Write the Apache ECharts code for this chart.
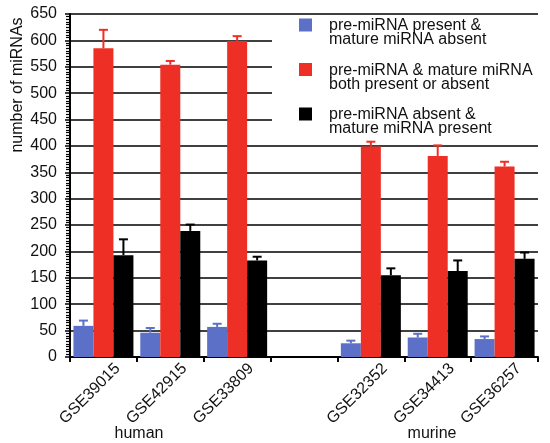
<!DOCTYPE html>
<html>
<head>
<meta charset="utf-8">
<script src="https://cdn.jsdelivr.net/npm/echarts@6/dist/echarts.min.js"></script>
<style>html,body{margin:0;padding:0;background:#fff}#c{width:550px;height:443px}</style>
</head>
<body>
<div id="c"></div>
<script>
var categories = ['GSE39015', 'GSE42915', 'GSE33809', '', 'GSE32352', 'GSE34413', 'GSE36257'];
var seriesNames = ['pre-miRNA present &\nmature miRNA absent', 'pre-miRNA & mature miRNA\nboth present or absent', 'pre-miRNA absent &\nmature miRNA present'];
var bluePresentAbsent = [59, 46, 57, null, 26, 37, 34];
var blueErr = [10, 9, 6, null, 5, 7, 5];
var redBoth = [585, 554, 599, null, 399, 381, 361];
var redErr = [35, 7, 9, null, 9, 20, 9];
var blackAbsentPresent = [193, 239, 183, null, 155, 163, 186];
var blackErr = [30, 12, 7, null, 13, 20, 12];
var yTicks = [0, 50, 100, 150, 200, 250, 300, 350, 400, 450, 500, 550, 600, 650];
var groupLabels = ['human', 'murine'];

var colors = ['#5b70c6', '#ee2f25', '#000000'];
var BW = 20;

function errSeries(vals, errs, idx) {
  var data = vals.map(function (v, i) { return v == null ? [i, null, null] : [i, v, v + errs[i]]; });
  return {
    type: 'custom',
    z: 3,
    silent: true,
    data: data,
    renderItem: function (params, api) {
      if (api.value(1) == null || isNaN(api.value(1))) return;
      var lo = api.coord([api.value(0), api.value(1)]);
      var hi = api.coord([api.value(0), api.value(2)]);
      var x = lo[0] + (idx - 1) * BW;
      var st = { stroke: colors[idx], lineWidth: 2 };
      return {
        type: 'group',
        children: [
          { type: 'line', shape: { x1: x, y1: lo[1], x2: x, y2: hi[1] }, style: st },
          { type: 'line', shape: { x1: x - 4.5, y1: hi[1], x2: x + 4.5, y2: hi[1] }, style: st }
        ]
      };
    }
  };
}

var chart = echarts.init(document.getElementById('c'), null, { renderer: 'canvas' });
var font = 'Liberation Sans, Arial, Helvetica, sans-serif';
chart.setOption({
  animation: false,
  textStyle: { fontFamily: font },
  grid: { left: 70, right: 12, top: 14, bottom: 86, containLabel: false },
  legend: {
    orient: 'vertical',
    left: 299,
    top: 6,
    padding: 0,
    itemWidth: 13,
    itemHeight: 13,
    itemGap: 2.5,
    icon: 'rect',
    z: 5,
    selectedMode: false,
    formatter: function (name) {
      var parts = name.split('\n');
      return '{s| }\n{t|' + parts[0] + '}\n{t|' + parts[1] + '}';
    },
    textStyle: {
      fontSize: 16, color: '#111', fontFamily: font, padding: [0, 0, 0, 12],
      rich: {
        s: { fontSize: 10, lineHeight: 16 },
        t: { fontSize: 16, lineHeight: 14, color: '#111', fontFamily: font }
      }
    },
    data: seriesNames
  },
  xAxis: {
    type: 'category',
    data: categories,
    axisLine: { lineStyle: { color: '#000', width: 2 } },
    axisTick: { show: true, length: 5, interval: 0, lineStyle: { color: '#000', width: 2 } },
    axisLabel: {
      interval: 0, rotate: 45, margin: -5, color: '#111', fontFamily: font,
      formatter: function (v) { return v ? '{s| }\n{t|' + v + '}' : ''; },
      rich: {
        s: { fontSize: 10, lineHeight: 40 },
        t: { fontSize: 16, lineHeight: 18, color: '#111', fontFamily: font }
      }
    },
    splitLine: { show: false }
  },
  yAxis: {
    type: 'value',
    min: 0,
    max: 650,
    interval: 50,
    axisLine: { show: true, lineStyle: { color: '#000', width: 2 } },
    axisTick: { show: true, length: 5, lineStyle: { color: '#000', width: 1.5 } },
    minorTick: { show: true, splitNumber: 10, length: 4, lineStyle: { color: '#000', width: 1.2 } },
    axisLabel: {
      margin: 13, fontSize: 16, color: '#111', fontFamily: font,
      formatter: function (v) { return yTicks.indexOf(v) >= 0 ? String(v) : ''; }
    },
    splitLine: { show: true, lineStyle: { color: '#000', width: 1.5 } }
  },
  graphic: [
    { type: 'rect', z: 3, shape: { x: 272, y: 16, width: 266, height: 124 }, style: { fill: '#fff' } },
    { type: 'text', z: 5, x: 18, y: 85, rotation: Math.PI / 2,
      style: { text: 'number of miRNAs', font: '16px ' + font, fill: '#111', align: 'center', verticalAlign: 'middle' } },
    { type: 'text', z: 5, x: 139, y: 434,
      style: { text: groupLabels[0], font: '16px ' + font, fill: '#111', align: 'center', verticalAlign: 'middle' } },
    { type: 'text', z: 5, x: 432, y: 434,
      style: { text: groupLabels[1], font: '16px ' + font, fill: '#111', align: 'center', verticalAlign: 'middle' } }
  ],
  series: [
    { name: seriesNames[0], type: 'bar', data: bluePresentAbsent, barWidth: BW, barGap: '0%', itemStyle: { color: colors[0] } },
    { name: seriesNames[1], type: 'bar', data: redBoth, barWidth: BW, barGap: '0%', itemStyle: { color: colors[1] } },
    { name: seriesNames[2], type: 'bar', data: blackAbsentPresent, barWidth: BW, barGap: '0%', itemStyle: { color: colors[2] } },
    errSeries(bluePresentAbsent, blueErr, 0),
    errSeries(redBoth, redErr, 1),
    errSeries(blackAbsentPresent, blackErr, 2)
  ]
});
</script>
</body>
</html>
